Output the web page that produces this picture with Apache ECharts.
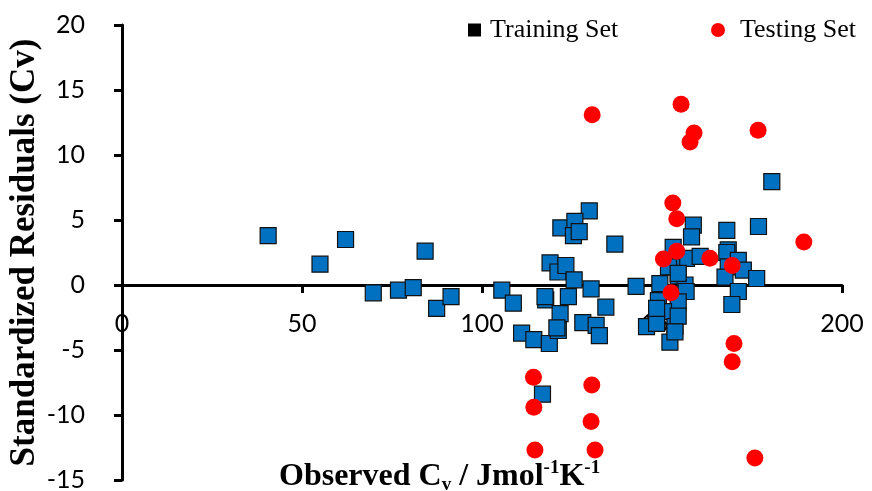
<!DOCTYPE html>
<html>
<head>
<meta charset="utf-8">
<script src="https://cdn.jsdelivr.net/npm/echarts@6/dist/echarts.min.js"></script>
<style>html,body{margin:0;padding:0;background:#fff}#c{width:872px;height:491px}</style>
</head>
<body>
<div id="c"></div>
<script>
const trainingSet = [
  [40.6,3.8],[55.0,1.6],[62.1,3.5],[69.8,-0.6],[76.8,-0.4],[80.9,-0.2],[84.2,2.6],[87.4,-1.8],[91.4,-0.9],
  [105.5,-0.4],[108.7,-1.4],[111.0,-3.7],[114.4,-4.2],[118.7,-4.5],[116.8,-8.4],[118.9,1.7],[121.1,1.0],
  [123.3,1.5],[125.6,0.4],[117.7,-1.15],[117.5,-0.9],[124.0,-0.9],[121.7,-2.2],[121.2,-3.5],[120.8,-3.3],
  [130.3,-0.3],[134.4,-1.7],[128.0,-2.9],[131.7,-3.1],[132.6,-3.9],[129.8,5.7],[121.9,4.4],[125.8,4.9],
  [125.4,3.8],[127.0,4.1],[136.9,3.15],[142.8,-0.1],[145.7,-3.2],[149.4,0.1],[153.1,2.9],[156.8,2.05],
  [160.6,2.2],[152.7,1.4],[154.5,0.7],[156.4,0.0],[156.7,-0.5],[149.0,-1.2],[154.5,-1.3],[150.4,-2.05],
  [148.5,-2.95],[153.6,-3.2],[152.2,-4.4],[154.5,-2.4],[148.5,-1.8],[153.6,-3.6],[158.7,4.6],[158.2,3.7],
  [180.5,7.95],[176.8,4.5],[168.0,4.2],[168.4,2.7],[168.0,2.5],[171.2,1.9],[168.4,1.4],[172.6,1.15],
  [167.5,0.6],[176.3,0.5],[171.2,-0.5],[169.4,-1.5],[151.8,1.4],[154.5,0.9]
];
const testingSet = [
  [130.6,13.1],[114.7,-12.7],[130.3,-10.5],[131.4,-12.7],[155.3,13.9],[158.9,11.7],[157.8,11.0],
  [176.7,11.9],[189.4,3.3],[175.8,-13.3],[170.0,-4.5],[169.5,-5.9],[114.3,-7.1],[130.5,-7.7],
  [114.4,-9.4],[153.0,6.3],[154.1,5.1],[150.4,2.0],[154.1,2.6],[163.3,2.05],[169.5,1.5],[152.5,-0.6]
];
const seriesNames = ['Training Set','Testing Set'];
const xTitle = '{a|Observed C}{sub|v}{a| / Jmol}{sup|-1}{a|K}{sup|-1}';
const yTitle = 'Standardized Residuals (Cv)';

const chart = echarts.init(document.getElementById('c'), null, {renderer:'canvas'});
const serif = 'Liberation Serif';
const sans = 'Lato';
chart.setOption({
  animation: false,
  backgroundColor: '#fff',
  grid: {left: 122, right: 30, top: 25, bottom: 11, outerBoundsMode: 'none', containLabel: false},
  title: {
    text: xTitle, left: 274, top: 454,
    textStyle: {
      rich: {
        a: {fontFamily: serif, fontWeight: 'bold', fontSize: 32, color: '#000', lineHeight: 36, verticalAlign: 'middle'},
        sub: {fontFamily: serif, fontWeight: 'bold', fontSize: 19, color: '#000', lineHeight: 14, verticalAlign: 'bottom'},
        sup: {fontFamily: serif, fontWeight: 'bold', fontSize: 19, color: '#000', lineHeight: 14, verticalAlign: 'top'}
      }
    }
  },
  legend: [
    {
      left: 468, top: 17, padding: 0, itemWidth: 13, itemHeight: 13,
      textStyle: {fontFamily: serif, fontSize: 26, color: '#000', padding: [0, 0, 0, 4]},
      data: [{name: seriesNames[0], icon: 'rect', itemStyle: {color: '#000', borderWidth: 0}}]
    },
    {
      left: 711, top: 17, padding: 0, itemWidth: 14, itemHeight: 14,
      textStyle: {fontFamily: serif, fontSize: 26, color: '#000', padding: [0, 0, 0, 10]},
      data: [{name: seriesNames[1], icon: 'circle', itemStyle: {color: '#ff0000'}}]
    }
  ],
  xAxis: {
    type: 'value', min: 0, max: 200, interval: 50,
    position: 'bottom', offset: -195,
    splitLine: {show: false},
    axisLine: {onZero: false, lineStyle: {color: '#000', width: 3}},
    axisTick: {show: true, length: 8, lineStyle: {color: '#000', width: 3}},
    axisLabel: {margin: 26, fontFamily: sans, fontSize: 25, color: '#000'}
  },
  yAxis: {
    type: 'value', min: -15, max: 20, interval: 5,
    name: yTitle, nameLocation: 'middle', nameGap: 80, nameMoveOverlap: false,
    nameTextStyle: {fontFamily: serif, fontWeight: 'bold', fontSize: 35, color: '#000'},
    splitLine: {show: false},
    axisLine: {show: true, onZero: false, lineStyle: {color: '#000', width: 3}},
    axisTick: {show: true, length: 8, lineStyle: {color: '#000', width: 3}},
    axisLabel: {margin: 37, fontFamily: sans, fontSize: 25, color: '#000'}
  },
  series: [
    {
      name: seriesNames[0], type: 'scatter', symbol: 'rect', symbolSize: 16,
      itemStyle: {color: '#0070C0', borderColor: '#111', borderWidth: 1.2, opacity: 1},
      data: trainingSet, z: 2
    },
    {
      name: seriesNames[1], type: 'scatter', symbol: 'circle', symbolSize: 17,
      itemStyle: {color: '#ff0000', opacity: 1},
      data: testingSet, z: 3
    }
  ]
});
</script>
</body>
</html>
